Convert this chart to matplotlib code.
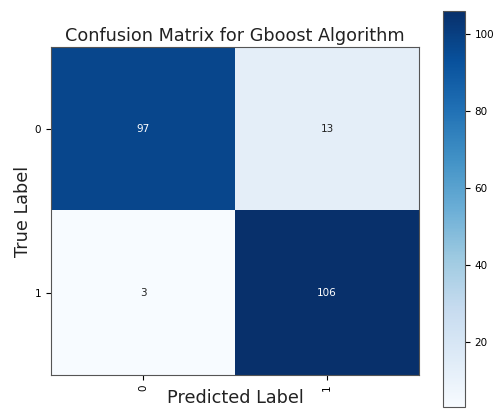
import numpy as np
import matplotlib.pyplot as plt

# === Данные ===
classes = ['0', '1']
cm_values = np.array([[97, 13],
                      [3, 106]])
cbar_ticks = [20, 40, 60, 80, 100]

# === Рисунок ===
fig = plt.figure(figsize=(4.96, 4.09), dpi=100)
ax = fig.add_axes([51 / 496, 1 - 375 / 409, 368 / 496, 328 / 409])
cax = fig.add_axes([443 / 496, 1 - 407 / 409, 22 / 496, 396 / 409])

im = ax.imshow(cm_values, cmap='Blues', aspect='auto', interpolation='nearest')
cb = fig.colorbar(im, cax=cax, ticks=cbar_ticks)
cb.ax.tick_params(labelsize=7.5)
cb.outline.set_edgecolor('#555555')

ax.set_title('Confusion Matrix for Gboost Algorithm', fontsize=12.7, color='#222222', pad=4)
ax.set_xticks(range(len(classes)))
ax.set_yticks(range(len(classes)))
ax.set_xticklabels(classes, rotation=90, fontsize=7.5)
ax.set_yticklabels(classes, fontsize=7.5)
ax.set_xlabel('Predicted Label', fontsize=12.7, color='#222222', labelpad=-2)
ax.set_ylabel('True Label', fontsize=12.7, color='#222222', labelpad=2)

thresh = cm_values.max() / 2
for i in range(cm_values.shape[0]):
    for j in range(cm_values.shape[1]):
        ax.text(j, i, str(cm_values[i, j]), ha='center', va='center',
                color='white' if cm_values[i, j] > thresh else '#222222', fontsize=7.5)

for s in ax.spines.values():
    s.set_edgecolor('#555555')

fig.savefig('out.png', dpi=100)
